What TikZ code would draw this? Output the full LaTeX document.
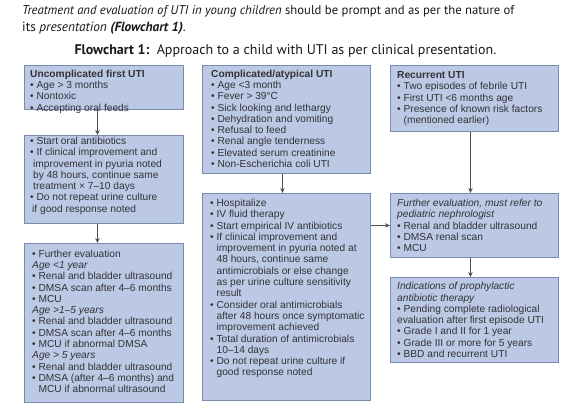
\documentclass[tikz,border=0pt]{standalone}
\usepackage{fontspec}
\setmainfont{Liberation Sans}
\newfontfamily\headfont{PT Sans}
\usetikzlibrary{arrows.meta}
\definecolor{boxfill}{RGB}{188,201,228}
\definecolor{boxline}{RGB}{122,138,178}
\definecolor{txtc}{RGB}{50,50,56}
\definecolor{arrc}{RGB}{80,80,86}
\definecolor{headc}{RGB}{25,25,25}
\newcommand{\bl}{\textbullet\ }
\newcommand{\ind}{\hphantom{\textbullet\ }}
\begin{document}
\begin{tikzpicture}[x=1pt,y=-1pt,
  box/.style={draw=boxline, fill=boxfill, line width=0.9pt, inner sep=0pt, anchor=north west},
  txtn/.style={anchor=north west, inner sep=0pt, align=left, text=txtc, font=\fontsize{10.2}{11.3}\selectfont},
  headn/.style={anchor=base west, inner sep=0pt, text=headc, font=\headfont\fontsize{13.1}{16}\selectfont},
  arrow/.style={draw=arrc, line width=0.8pt, -{Stealth[length=5pt,width=4.5pt]}}]
\path[use as bounding box, fill=white] (0,0) rectangle (588,406);

% header
\node[headn, font=\headfont\fontsize{12.7}{16}\selectfont] (h1) at (22,14.5) {\itshape Treatment and evaluation of UTI in young children\upshape{} should be prompt and as per the nature of};
\node[headn, font=\headfont\fontsize{13.3}{16}\selectfont] (h2) at (22,31.5) {its \textit{presentation} \textbf{\textit{(Flowchart 1)}}.};
\node[headn, anchor=base, font=\headfont\fontsize{14}{16}\selectfont] (h3) at (285.5,54.5) {\textbf{Flowchart 1:}\ \ Approach to a child with UTI as per clinical presentation.};

% boxes
\node[box, minimum width=159pt, minimum height=44pt] (A) at (24,65) {};
\node[box, minimum width=159pt, minimum height=88pt] (B) at (24,135) {};
\node[box, minimum width=159pt, minimum height=159pt] (C) at (24,243) {};
\node[box, minimum width=168pt, minimum height=108pt] (D) at (202,65) {};
\node[box, minimum width=168pt, minimum height=207pt] (E) at (202,193) {};
\node[box, minimum width=168pt, minimum height=66pt] (F) at (390,65) {};
\node[box, minimum width=168pt, minimum height=64pt] (G) at (390,193) {};
\node[box, minimum width=168pt, minimum height=85pt] (H) at (390,277) {};

% texts
\node[txtn] (At) at (30,69.6) {\textbf{Uncomplicated first UTI}\\
\bl Age > 3 months\\
\bl Nontoxic\\
\bl Accepting oral feeds};

\node[txtn] (Bt) at (30,136.9) {\bl Start oral antibiotics\\
\bl If clinical improvement and\\
\hspace*{3pt}improvement in pyuria noted\\
\hspace*{3pt}by 48 hours, continue same\\
\hspace*{3pt}treatment × 7–10 days\\
\bl Do not repeat urine culture\\
\hspace*{2pt}if good response noted};

\node[txtn] (Ct) at (32,249.6) {\bl Further evaluation\\
\textit{Age <1 year}\\
\bl Renal and bladder ultrasound\\
\bl DMSA scan after 4–6 months\\
\bl MCU\\
\textit{Age >1–5 years}\\
\bl Renal and bladder ultrasound\\
\bl DMSA scan after 4–6 months\\
\bl MCU if abnormal DMSA\\
\textit{Age > 5 years}\\
\bl Renal and bladder ultrasound\\
\bl DMSA (after 4–6 months) and\\
\ind MCU if abnormal ultrasound};

\node[txtn] (Dt) at (211,69.6) {\textbf{Complicated/atypical UTI}\\
\bl Age <3 month\\
\bl Fever > 39°C\\
\bl Sick looking and lethargy\\
\bl Dehydration and vomiting\\
\bl Refusal to feed\\
\bl Renal angle tenderness\\
\bl Elevated serum creatinine\\
\bl Non-Escherichia coli UTI};

\node[txtn] (Et) at (210,198.9) {\bl Hospitalize\\
\bl IV fluid therapy\\
\bl Start empirical IV antibiotics\\
\bl If clinical improvement and\\
\ind improvement in pyuria noted at\\
\ind 48 hours, continue same\\
\ind antimicrobials or else change\\
\ind as per urine culture sensitivity\\
\ind result\\
\bl Consider oral antimicrobials\\
\ind after 48 hours once symptomatic\\
\ind improvement achieved\\
\bl Total duration of antimicrobials\\
\ind 10–14 days\\
\bl Do not repeat urine culture if\\
\ind good response noted};

\node[txtn] (Ft) at (397,71.2) {\textbf{Recurrent UTI}\\
\bl Two episodes of febrile UTI\\
\bl First UTI <6 months age\\
\bl Presence of known risk factors\\
\ind (mentioned earlier)};

\node[txtn] (Gt) at (397,198.9) {\textit{Further evaluation, must refer to}\\
\textit{pediatric nephrologist}\\
\bl Renal and bladder ultrasound\\
\bl DMSA renal scan\\
\bl MCU};

\node[txtn] (Ht) at (397,282.2) {\textit{Indications of prophylactic}\\
\textit{antibiotic therapy}\\
\bl Pending complete radiological\\
evaluation after first episode UTI\\
\bl Grade I and II for 1 year\\
\bl Grade III or more for 5 years\\
\bl BBD and recurrent UTI};

% arrows
\draw[arrow] ([xshift=-6.5pt]A.south) -- ([xshift=-6.5pt]B.north);
\draw[arrow] ([xshift=-6.5pt]B.south) -- ([xshift=-6.5pt]C.north);
\draw[arrow] ([xshift=-4pt]D.south) -- ([xshift=-4pt]E.north);
\draw[arrow] ([xshift=-4pt]F.south) -- ([xshift=-4pt]G.north);
\draw[arrow] ([xshift=-4pt]G.south) -- ([xshift=-4pt]H.north);
\draw[arrow] (E.east |- G.west) -- (G.west);
\end{tikzpicture}
\end{document}
